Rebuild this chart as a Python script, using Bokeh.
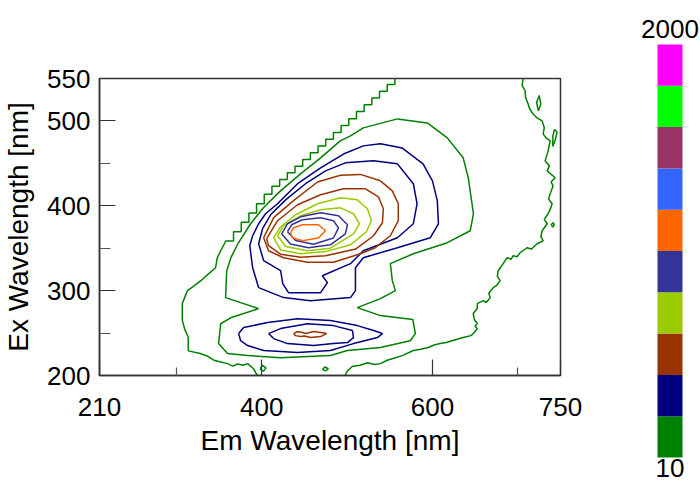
from bokeh.plotting import figure
from bokeh.models import FixedTicker, ColumnDataSource, Range1d
from bokeh.layouts import row
from bokeh.embed import file_html
from bokeh.resources import INLINE
from bokeh.core.properties import value

FONT = "Liberation Sans"

# ---------------- axes ----------------
em_limits = [210, 750]
ex_limits = [200, 550]
em_major_ticks = [210, 400, 600, 750]
em_minor_ticks = [300, 700]
ex_major_ticks = [200, 300, 400, 500, 550]
ex_minor_ticks = [250, 350, 450]
em_title = "Em Wavelength [nm]"
ex_title = "Ex Wavelength [nm]"

# ---------------- colour scale ----------------
level_labels = ["10", "2000"]
level_colors = ["#008000", "#000080", "#993300", "#99CC00", "#333399",
                "#FF6600", "#3366FF", "#993366", "#00FF00", "#FF00FF"]

# ---------------- contour lines (Em, Ex in nm) ----------------
green_outer_left_em = [556, 556, 547, 547, 538, 538, 529, 529, 520, 520, 511, 511,
                       502, 502, 493, 493, 484, 484, 475, 475, 466, 466, 457, 457,
                       448, 448, 439, 439, 430, 430, 421, 421, 412, 412, 403, 403,
                       394, 394, 385, 385, 376, 376, 367, 367, 358,
                       352, 348, 346, 338, 329, 320, 313, 307, 307, 310, 314, 314,
                       328, 336, 344, 352, 360, 366, 372, 378, 383.5, 390.5, 393, 396]
green_outer_left_ex = [550, 543, 543, 535, 535, 527, 527, 519, 519, 511, 511, 502.5,
                       502.5, 494.5, 494.5, 486.5, 486.5, 478.5, 478.5, 470.5, 470.5,
                       462.5, 462.5, 454.5, 454.5, 446.5, 446.5, 439, 439, 431, 431,
                       423, 423, 413.5, 413.5, 402.5, 402.5, 391.5, 391.5, 380.5,
                       380.5, 369.5, 369.5, 358.5, 358.5,
                       347, 339, 327, 320, 312, 305, 300, 285, 265, 254, 245, 229,
                       226, 223, 218, 216, 214, 211, 213.5, 212, 214, 208, 203, 200]

green_outer_right_em = [498, 500, 506, 515, 524, 532, 539, 547, 556.6, 566, 577.6,
                        586, 595, 602, 609, 616, 623, 630, 636, 645, 647.8,
                        652.5, 650, 652.5, 649, 647.8, 652.5, 652.5, 659.5, 663, 667.7,
                        666, 671.2, 675, 679.4, 676, 677, 682.9, 685, 687.6, 692, 694.6,
                        699, 702.8, 706, 711, 716, 722.7, 729.7, 727, 728.5, 734.4, 731,
                        735.5, 738, 740.2, 736, 737.9, 741.4, 739, 743.7, 734.4, 737,
                        732, 735.5, 737.9, 733, 729.7, 731, 728.5, 722, 718, 714,
                        712.1, 709, 708.6, 705, 706.3]
green_outer_right_ex = [200, 205, 210.6, 212, 215, 213, 214, 218, 221, 224, 229.4,
                        231, 233, 236, 237.6, 239, 241, 243, 244.7, 247, 249.4,
                        255, 258, 261.2, 266, 273, 279, 284.7, 288.2, 286, 291.8,
                        297, 303.5, 306, 311.8, 317, 323.5, 331.8, 335, 338.8, 337,
                        341.2, 340, 344.7, 347, 350.6, 349, 355.3, 358.8, 364, 370.6,
                        378.8, 384, 390.6, 396, 402.4, 408, 414.1, 423.5, 428, 433,
                        441.2, 447, 452.9, 464.7, 476.5, 480, 484.7, 492, 500, 504,
                        508.2, 514, 520, 528, 535.3, 542, 550]

green_inner_em = [559, 594, 617.4, 636, 642, 648, 644.3, 617.4, 577.6, 550.7, 553,
                  556.6, 539, 512, 539, 577, 580, 574, 539, 500.4, 480.5, 422, 383.5,
                  360, 349.5, 352, 363.6, 396.4, 357.7, 359, 364, 372, 387, 402, 422,
                  445.5, 469, 492, 504, 519, 559]
green_inner_ex = [502.4, 497.6, 480, 456.5, 433, 390.6, 370.6, 356.5, 343.5, 331.8,
                  311.8, 300, 290.6, 280, 270.6, 266, 249.4, 241, 233, 229.4, 223.5,
                  221, 223.5, 226, 237.6, 261, 268, 278.8, 291.8, 323.5, 339, 355,
                  378.8, 397.6, 417.6, 437.6, 456.5, 476.5, 482.4, 491.8, 502.4]

navy_outer_em = [396.4, 389.4, 386, 389.4, 396.4, 404.5, 418.5, 442, 469, 495.8, 519,
                 539, 564.7, 589, 600, 605.7, 607, 597.5, 559, 519, 509.8, 509.8, 504,
                 457, 425.7, 396.4]
navy_outer_ex = [303.5, 327, 353, 364.7, 378.8, 390.6, 402.4, 426, 444.7, 461, 470.6,
                 473, 468, 449.4, 429.4, 406, 378.8, 362.4, 350.6, 338.8, 327, 300,
                 291.8, 288, 291.8, 303.5]

navy_inner_em = [402.3, 422.2, 424.6, 431.4, 469, 477, 471, 504, 519, 559, 577.6, 582,
                 577.6, 559, 531, 498, 474.8, 451.3, 428, 410.4, 401, 396.4, 402.3]
navy_inner_ex = [335.3, 323.5, 308.2, 297.6, 297.6, 309.4, 317.6, 331.8, 347, 362.4,
                 378.8, 402.4, 426, 449.4, 453, 450.6, 441.2, 426, 407, 389.4, 373,
                 355.3, 335.3]

brown_outer_em = [402.3, 414, 437.3, 465.4, 492.3, 515.6, 539, 553, 560, 560, 550.7,
                  533, 515.6, 484, 453.6, 425.6, 408, 402.3]
brown_outer_ex = [362.4, 386, 406, 428, 436, 437, 429.4, 417.6, 402.4, 382.4, 364.7,
                  350.6, 343.5, 333.5, 333.5, 338.8, 347, 362.4]

brown_inner_em = [405.8, 418.6, 442, 469, 495.8, 521.5, 536.7, 542.5, 541.4, 531, 510,
                  474.8, 445.5, 422, 408, 405.8]
brown_inner_ex = [361.2, 382.4, 401.2, 413, 420, 420, 410.6, 396.5, 380, 364.7, 349,
                  341, 339.4, 343, 353, 361.2]

yellowgreen_outer_em = [414, 422.2, 439.7, 465.4, 492.3, 512, 523.8, 528.5, 522.6, 504,
                        474.8, 445.5, 422.2, 414]
yellowgreen_outer_ex = [362.4, 375.3, 389.4, 402.4, 409.4, 407, 396.5, 382.4, 369.4,
                        354, 346, 343.5, 348, 362.4]

yellowgreen_inner_em = [418.6, 425.6, 445.5, 469, 492.3, 507.5, 514.6, 507.5, 480.5,
                        453.6, 428, 418.6]
yellowgreen_inner_ex = [364.7, 376.5, 388.2, 395.3, 397.6, 390.6, 378.8, 367, 350,
                        347, 352, 364.7]

slate_outer_em = [423.3, 430.2, 445.5, 469, 490, 500.4, 498, 480.5, 454.8, 433.7, 423.3]
slate_outer_ex = [367, 378.8, 387, 391.8, 388.2, 377.6, 367, 354, 350.6, 355, 367]

slate_inner_em = [430.2, 435, 447.8, 469, 484, 490, 484, 460.7, 439.7, 430.2]
slate_inner_ex = [369.4, 377.6, 383.5, 386, 382.4, 374, 362, 354.7, 359, 369.4]

orange_core_em = [433.7, 437.3, 447.8, 466.5, 474.8, 466.5, 447.8, 436, 433.7]
orange_core_ex = [368.2, 374.1, 377.6, 377.6, 370.6, 362, 358.8, 362.5, 368.2]

second_navy_outer_em = [373, 378.8, 406.9, 442, 480.5, 512, 531, 541.4, 535.5, 507.5,
                        480.5, 442, 402.3, 383.5, 375.3, 373]
second_navy_outer_ex = [249.4, 256.5, 262.4, 267, 264.7, 258.8, 253, 249.4, 244.7,
                        237.6, 229.4, 227, 229.4, 235.3, 241, 249.4]

second_navy_inner_em = [408, 422, 453.6, 484, 506.3, 507.5, 500.4, 484, 460.7, 430.2,
                        414, 408]
second_navy_inner_ex = [249.4, 255.3, 261, 258.8, 253, 244.7, 238.8, 237.6, 235.3,
                        237.6, 243.5, 249.4]

second_brown_core_em = [437.3, 441, 445.5, 452, 460.7, 469, 476, 469, 457, 450, 445.5,
                        439.7, 437.3]
second_brown_core_ex = [249.4, 251.5, 251.2, 249.5, 251.8, 250.6, 249.4, 245.9, 244.7,
                        246.5, 245.9, 247, 249.4]

blob_a_em = [398, 401, 405, 402, 398]
blob_a_ex = [208, 212, 209, 205, 208]
blob_b_em = [471, 474, 478, 475, 471]
blob_b_ex = [207, 210, 208, 205.5, 207]
blob_c_em = [741, 744, 746, 743, 741, 741]
blob_c_ex = [470, 478, 487, 490, 482, 470]
blob_d_em = [724, 727, 725, 722, 724]
blob_d_ex = [512, 520, 530, 522, 512]
blob_e_em = [739, 741, 743, 741, 739]
blob_e_ex = [377, 380, 378, 375, 377]

contour_em = [green_outer_left_em, green_outer_right_em, green_inner_em,
              navy_outer_em, navy_inner_em, brown_outer_em, brown_inner_em,
              yellowgreen_outer_em, yellowgreen_inner_em, slate_outer_em,
              slate_inner_em, orange_core_em, second_navy_outer_em,
              second_navy_inner_em, second_brown_core_em, blob_a_em, blob_b_em,
              blob_c_em, blob_d_em, blob_e_em]
contour_ex = [green_outer_left_ex, green_outer_right_ex, green_inner_ex,
              navy_outer_ex, navy_inner_ex, brown_outer_ex, brown_inner_ex,
              yellowgreen_outer_ex, yellowgreen_inner_ex, slate_outer_ex,
              slate_inner_ex, orange_core_ex, second_navy_outer_ex,
              second_navy_inner_ex, second_brown_core_ex, blob_a_ex, blob_b_ex,
              blob_c_ex, blob_d_ex, blob_e_ex]
contour_level = [0, 0, 0, 1, 1, 2, 2, 3, 3, 4, 4, 5, 1, 1, 2, 0, 0, 0, 0, 0]

# ---------------- main plot ----------------
p = figure(width=600, height=483,
           x_range=Range1d(em_limits[0], em_limits[1]),
           y_range=Range1d(ex_limits[0], ex_limits[1]),
           output_backend="svg", toolbar_location=None,
           min_border_left=99, min_border_right=40,
           min_border_top=78, min_border_bottom=108,
           frame_align=False)
p.xgrid.visible = False
p.ygrid.visible = False
p.outline_line_color = "#333333"
p.outline_line_width = 1.5
p.outline_line_alpha = 1.0

src = ColumnDataSource(dict(xs=contour_em, ys=contour_ex,
                            color=[level_colors[i] for i in contour_level]))
p.multi_line("xs", "ys", line_color="color", line_width=1.5, source=src)

xa = p.xaxis[0]
xa.ticker = FixedTicker(ticks=em_major_ticks, minor_ticks=em_minor_ticks)
xa.major_tick_in = 16
xa.major_tick_out = 0
xa.minor_tick_in = 8
xa.minor_tick_out = 0
xa.major_label_standoff = 22
xa.axis_label = em_title
xa.axis_label_standoff = 6

ya = p.yaxis[0]
ya.ticker = FixedTicker(ticks=ex_major_ticks, minor_ticks=ex_minor_ticks)
ya.major_tick_in = 16
ya.major_tick_out = 0
ya.minor_tick_in = 11
ya.minor_tick_out = 0
ya.major_label_standoff = 9
ya.axis_label = ex_title
ya.axis_label_standoff = 10

for ax in (xa, ya):
    ax.axis_line_color = "#333333"
    ax.axis_line_width = 1.5
    ax.major_tick_line_color = "#333333"
    ax.minor_tick_line_color = "#555555"
    ax.major_tick_line_width = 1.2
    ax.minor_tick_line_width = 1.2
    ax.major_label_text_font = FONT
    ax.major_label_text_font_size = "26px"
    ax.major_label_text_color = "#000000"
    ax.axis_label_text_font = FONT
    ax.axis_label_text_font_size = "28px"
    ax.axis_label_text_font_style = "normal"
    ax.axis_label_text_color = "#000000"

# ---------------- colour bar ----------------
cb = figure(width=100, height=483,
            x_range=Range1d(-2.28, 1.72), y_range=Range1d(-0.6295, 11.065),
            output_backend="svg", toolbar_location=None, min_border=0,
            x_axis_location=None, y_axis_location=None, frame_align=False)
cb.outline_line_color = None
for g in cb.grid:
    g.visible = False

band_bottom = list(range(len(level_colors)))
band_top = [b + 1 for b in band_bottom]
cb.quad(left=0, right=1, bottom=band_bottom, top=band_top,
        fill_color=level_colors, line_color=None)
cb.text(x=[0.5, 0.5], y=[band_bottom[0], band_top[-1]], text=level_labels,
        text_align="center", text_baseline="alphabetic", y_offset=[10, -15],
        text_font=value(FONT), text_font_size="26px", text_color="#000000")

layout = row(p, cb)
open("out.html", "w").write(file_html(layout, INLINE))
